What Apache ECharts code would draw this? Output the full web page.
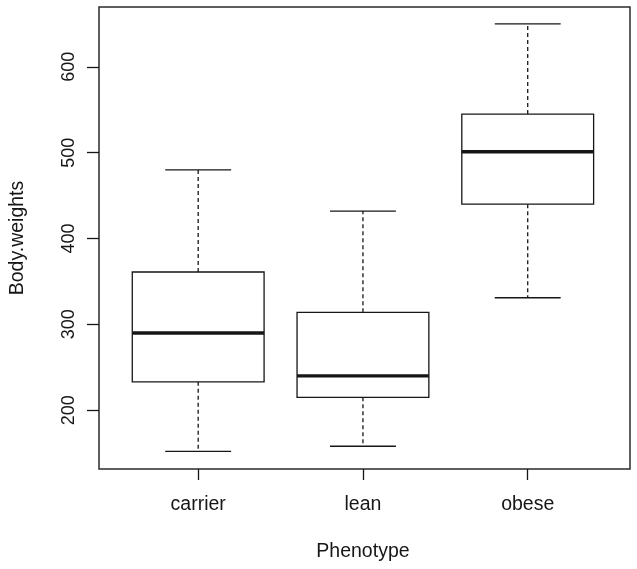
<!DOCTYPE html>
<html>
<head>
<meta charset="utf-8">
<script src="https://cdn.jsdelivr.net/npm/echarts@6/dist/echarts.min.js"></script>
<style>
html,body{margin:0;padding:0;background:#fff;}
#chart{width:637px;height:569px;}
</style>
</head>
<body>
<div id="chart"></div>
<script>
// Data
const categories = ['carrier', 'lean', 'obese'];
const lowerWhisker = [152, 158, 331];
const q1Values = [233, 215, 440];
const medianValues = [290, 240, 501];
const q3Values = [361, 314, 545];
const upperWhisker = [480, 432, 650];
const yTicks = [200, 300, 400, 500, 600];
const yMin = 131.5;
const yMax = 669.7;

const ink = '#161616';
const font = 'Liberation Sans, Arial, sans-serif';

const boxData = categories.map((c, i) => [i, lowerWhisker[i], q1Values[i], medianValues[i], q3Values[i], upperWhisker[i]]);

function renderBox(params, api) {
  const idx = api.value(0);
  const band = api.size([1, 0])[0];
  const half = band * 0.4;
  const capHalf = band * 0.2;
  const pLow = api.coord([idx, api.value(1)]);
  const pQ1 = api.coord([idx, api.value(2)]);
  const pMed = api.coord([idx, api.value(3)]);
  const pQ3 = api.coord([idx, api.value(4)]);
  const pHigh = api.coord([idx, api.value(5)]);
  const x = pMed[0];
  const thin = { stroke: ink, lineWidth: 1.3, fill: null };
  const dashed = { stroke: ink, lineWidth: 1.3, lineDash: [4, 3] };
  return {
    type: 'group',
    children: [
      { type: 'line', shape: { x1: x, y1: pQ3[1], x2: x, y2: pHigh[1] }, style: dashed },
      { type: 'line', shape: { x1: x, y1: pQ1[1], x2: x, y2: pLow[1] }, style: dashed },
      { type: 'line', shape: { x1: x - capHalf, y1: pHigh[1], x2: x + capHalf, y2: pHigh[1] }, style: thin },
      { type: 'line', shape: { x1: x - capHalf, y1: pLow[1], x2: x + capHalf, y2: pLow[1] }, style: thin },
      { type: 'rect', shape: { x: x - half, y: pQ3[1], width: 2 * half, height: pQ1[1] - pQ3[1] }, style: { stroke: ink, lineWidth: 1.3, fill: '#ffffff' } },
      { type: 'line', shape: { x1: x - half, y1: pMed[1], x2: x + half, y2: pMed[1] }, style: { stroke: ink, lineWidth: 3.4 } }
    ]
  };
}

const chart = echarts.init(document.getElementById('chart'), null, { renderer: 'canvas' });
chart.setOption({
  backgroundColor: '#ffffff',
  animation: false,
  grid: [
    { left: 96, right: 7, top: 7, bottom: 100, show: true, borderColor: '#2a2a2a', borderWidth: 1.5, backgroundColor: 'transparent' },
    { left: 115.8, right: 26.9, top: 7, bottom: 100 }
  ],
  xAxis: [
    { gridIndex: 0, type: 'value', show: false, min: 0, max: 1 },
    {
      gridIndex: 1, type: 'category', data: categories, boundaryGap: true,
      axisLine: { show: false },
      axisTick: { show: true, alignWithLabel: true, length: 11, lineStyle: { color: ink, width: 1.3 } },
      axisLabel: { margin: 26, fontSize: 19.5, fontFamily: font, color: ink },
      splitLine: { show: false },
      name: 'Phenotype', nameLocation: 'middle', nameGap: 73,
      nameTextStyle: { fontSize: 19.5, fontFamily: font, color: ink }
    }
  ],
  yAxis: [
    {
      gridIndex: 0, type: 'value', min: yMin, max: yMax,
      axisLine: { show: false },
      axisTick: { show: true, length: 12, customValues: yTicks, lineStyle: { color: ink, width: 1.3 } },
      axisLabel: { rotate: 90, margin: 21, fontSize: 18, fontFamily: font, color: ink, customValues: yTicks },
      splitLine: { show: false },
      name: 'Body.weights', nameLocation: 'middle', nameGap: 71, nameRotate: 90,
      nameTextStyle: { fontSize: 19.5, fontFamily: font, color: ink }
    },
    { gridIndex: 1, type: 'value', min: yMin, max: yMax, show: false, splitLine: { show: false } }
  ],
  series: [
    {
      type: 'custom',
      xAxisIndex: 1, yAxisIndex: 1,
      renderItem: renderBox,
      encode: { x: 0, y: [1, 2, 3, 4, 5] },
      data: boxData,
      clip: false
    }
  ]
});
</script>
</body>
</html>
